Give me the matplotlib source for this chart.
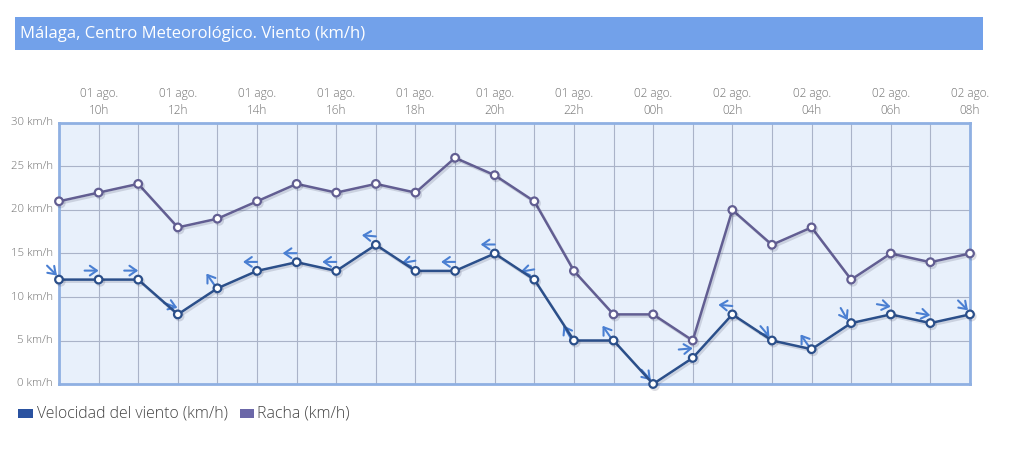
import matplotlib as mpl

mpl.use("Agg")
import matplotlib.pyplot as plt
from matplotlib import patheffects as pe
from matplotlib.patches import Rectangle
from matplotlib.transforms import ScaledTranslation
import numpy as np

plt.rcParams["font.family"] = ["Open Sans", "DejaVu Sans"]

# hourly data, 01 ago. 09h -> 02 ago. 08h
hours = ["09h", "10h", "11h", "12h", "13h", "14h", "15h", "16h", "17h", "18h", "19h", "20h",
         "21h", "22h", "23h", "00h", "01h", "02h", "03h", "04h", "05h", "06h", "07h", "08h"]
days = ["01 ago."] * 15 + ["02 ago."] * 9
wind_speed = [12, 12, 12, 8, 11, 13, 14, 13, 16, 13, 13, 15, 12, 5, 5, 0, 3, 8, 5, 4, 7, 8, 7, 8]
gust = [21, 22, 23, 18, 19, 21, 23, 22, 23, 22, 26, 24, 21, 13, 8, 8, 5, 20, 16, 18, 12, 15, 14, 15]
# arrow heading in degrees (screen, counter-clockwise from east)
arrow_dir = [-45, 0, 0, -20, 125, 180, 180, 180, 175, 190, 180, 180, 190, 120, 125, -48,
             5, 175, -50, 125, -60, -10, -10, -45]
y_ticks = [0, 5, 10, 15, 20, 25, 30]

SPEED_C = "#2b4f8a"
GUST_C = "#625e92"
ARROW_C = "#4a7fd2"
TEXT_C = "#707070"

fig = plt.figure(figsize=(10.10, 4.58), dpi=100)
W, H = 1010, 458

# title bar
fig.patches.append(Rectangle((15 / W, 1 - 50 / H), 968 / W, 33 / H, transform=fig.transFigure,
                             facecolor="#72a1ea", edgecolor="none", zorder=0))
fig.text(20 / W, 1 - 34 / H, "Málaga, Centro Meteorológico. Viento (km/h)", color="white",
         fontsize=12, va="center", ha="left")

ax = fig.add_axes([59 / W, 1 - 384 / H, 911 / W, 261 / H])
ax.set_facecolor("#e8f0fb")
x = np.arange(len(hours))
ax.set_xlim(0, len(hours) - 1)
ax.set_ylim(0, 30)

ax.set_xticks(x)
ax.set_yticks(y_ticks)
ax.grid(True, color="#aab3c8", linewidth=0.8)
ax.set_axisbelow(True)
ax.tick_params(length=0, labelbottom=False, labelleft=False)
for s in ax.spines.values():
    s.set_color("#8fb0e2")
    s.set_linewidth(2)

for yv in y_ticks:
    ax.annotate(f"{yv} km/h", xy=(0, yv), xytext=(-6, 0), textcoords="offset pixels",
                ha="right", va="center", fontsize=8.2, color=TEXT_C, fontweight="light",
                annotation_clip=False)
for i in range(1, len(hours), 2):
    ax.annotate(f"{days[i]}\n{hours[i]}", xy=(i, 30), xytext=(0, 6), textcoords="offset pixels",
                ha="center", va="bottom", fontsize=8.5, color=TEXT_C, fontweight="light",
                linespacing=1.35, annotation_clip=False)

shadow = [pe.SimpleLineShadow(offset=(1.2, -1.5), shadow_color="#202040", alpha=0.15),
          pe.Normal()]
ax.plot(x, gust, color=GUST_C, lw=1.8, marker="o", ms=5.5, mfc="white", mec=GUST_C,
        mew=1.6, path_effects=shadow, zorder=3, clip_on=False)
ax.plot(x, wind_speed, color=SPEED_C, lw=1.8, marker="o", ms=5.5, mfc="white", mec=SPEED_C,
        mew=1.6, path_effects=shadow, zorder=4, clip_on=False)

# wind direction arrows, offset up-left of each speed point (drawn under the lines)
L = 14
for xi, yi, d in zip(x, wind_speed, arrow_dir):
    c, s = np.cos(np.radians(d)), np.sin(np.radians(d))
    hx, hy = -7 + c * L / 2, 9 + s * L / 2
    tr = ax.transData + ScaledTranslation(hx / 100, hy / 100, fig.dpi_scale_trans)
    ax.annotate("", xy=(xi, yi), xycoords=tr, xytext=(-c * L, -s * L),
                textcoords="offset pixels",
                arrowprops=dict(arrowstyle="->,head_length=0.5,head_width=0.35",
                                color=ARROW_C, lw=1.5, shrinkA=0, shrinkB=0),
                zorder=2.5, annotation_clip=False)

# legend
fig.patches.append(Rectangle((18 / W, 1 - 418 / H), 15 / W, 9 / H, transform=fig.transFigure,
                             facecolor="#2a52a0", edgecolor="none"))
fig.text(37 / W, 1 - 413 / H, "Velocidad del viento (km/h)", fontsize=11.4, color="#444444",
         va="center", ha="left", fontweight="light")
fig.patches.append(Rectangle((240 / W, 1 - 418 / H), 14 / W, 9 / H, transform=fig.transFigure,
                             facecolor="#6b67a8", edgecolor="none"))
fig.text(257 / W, 1 - 413 / H, "Racha (km/h)", fontsize=11.4, color="#444444",
         va="center", ha="left", fontweight="light")

fig.savefig("out.png", dpi=100, facecolor="white")
